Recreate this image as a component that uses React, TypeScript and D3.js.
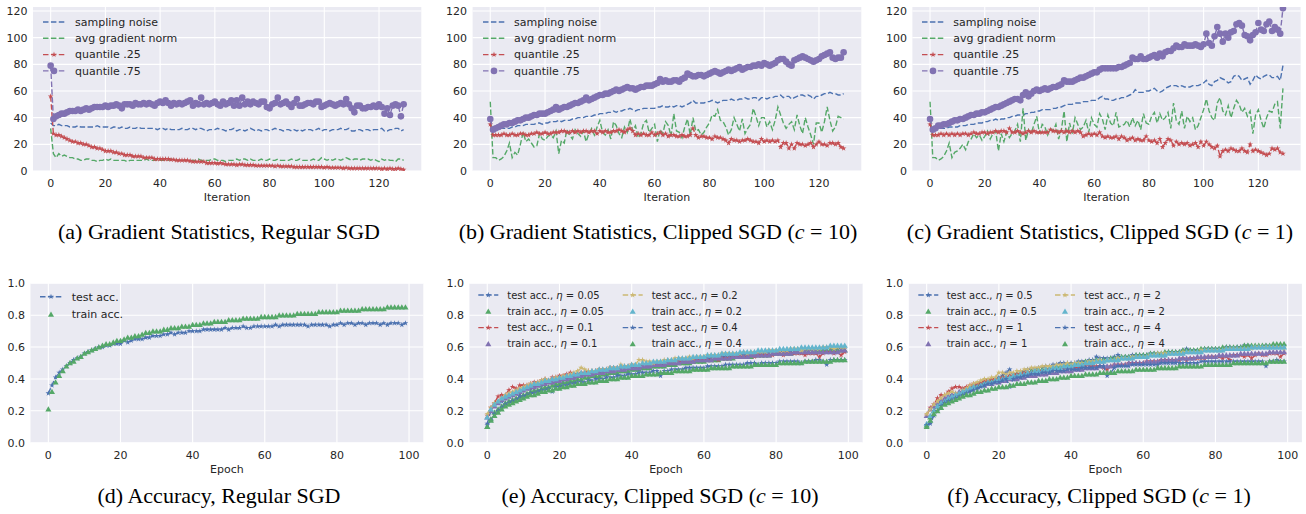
import React, { useEffect, useRef } from "react";
import * as d3 from "d3";

// seaborn "deep" palette
const BLUE = "#4C72B0";
const GREEN = "#55A868";
const RED = "#C44E52";
const PURPLE = "#8172B2";
const YELLOW = "#CCB974";
const CYAN = "#64B5CD";

const iters = d3.range(130);
const epochs = d3.range(100);

const gradTicksX = [0, 20, 40, 60, 80, 100, 120];
const gradTicksY = [0, 20, 40, 60, 80, 100, 120];
const accTicksX = [0, 20, 40, 60, 80, 100];
const accTicksY = [0, 0.2, 0.4, 0.6, 0.8, 1.0];

const gradLabels = ["sampling noise", "avg gradient norm", "quantile .25", "quantile .75"];

// (a) regular SGD
const aNoise = [
  36, 34, 34, 35, 34, 34, 34, 33, 33, 33, 34, 33, 33, 33, 33, 33, 33, 34, 33, 33,
  33, 33, 32, 33, 33, 32, 33, 32, 32, 33, 32, 32, 33, 32, 32, 32, 32, 32, 32, 31,
  32, 32, 31, 32, 31, 31, 31, 31, 32, 31, 31, 32, 32, 31, 32, 32, 31, 30, 31, 31,
  31, 32, 31, 31, 30, 31, 31, 32, 30, 31, 31, 30, 31, 32, 31, 30, 31, 30, 31, 31,
  30, 31, 32, 31, 31, 30, 31, 31, 30, 31, 30, 31, 30, 31, 31, 31, 30, 31, 32, 30,
  31, 31, 30, 31, 31, 31, 32, 31, 31, 32, 30, 30, 31, 31, 30, 31, 31, 30, 31, 31,
  31, 32, 30, 30, 31, 31, 32, 32, 30, 31,
];
const aNorm = [
  32, 13, 10, 13, 11, 12, 11, 10, 10, 9, 9, 8, 8, 9, 9, 8, 8, 7, 8, 8,
  9, 8, 9, 8, 8, 8, 8, 8, 7, 8, 8, 8, 8, 8, 8, 9, 8, 8, 8, 8,
  8, 8, 8, 8, 9, 8, 8, 8, 8, 8, 8, 8, 8, 8, 9, 8, 8, 8, 8, 9,
  9, 8, 8, 8, 7, 8, 8, 8, 9, 8, 9, 9, 8, 9, 8, 8, 8, 9, 8, 8,
  9, 8, 8, 9, 8, 8, 8, 8, 9, 8, 8, 9, 8, 8, 8, 8, 9, 8, 8, 10,
  9, 8, 9, 8, 9, 9, 8, 9, 10, 9, 8, 9, 9, 8, 9, 9, 9, 8, 9, 8,
  7, 9, 8, 9, 8, 8, 7, 9, 9, 8,
];
const aQ25 = [
  56, 28, 27, 27, 26, 25, 24, 23, 22, 22, 21, 21, 20, 20, 19, 18, 18, 17, 17, 16,
  15, 15, 15, 14, 14, 13, 13, 12, 12, 12, 11, 11, 11, 11, 10, 10, 10, 10, 9, 9,
  9, 9, 9, 9, 8.5, 8.5, 8, 8, 8, 8, 8, 7.5, 7, 7, 7, 7, 7, 6, 6, 6,
  6, 5.5, 6, 5.5, 5, 5, 5, 5, 4.5, 5, 5, 4.5, 4.5, 4.5, 4.5, 4, 4, 4, 4, 4,
  4, 4, 3.5, 4, 3.5, 3.5, 3.5, 3.5, 3.5, 3, 3, 3, 3, 3, 3, 3, 3, 3, 3, 3,
  2.5, 3, 2.5, 2.5, 2.5, 2.5, 2.5, 2, 2.5, 2, 2, 2, 2, 2, 2, 2, 2, 2, 2, 2,
  2, 1.5, 2, 1.5, 2, 1.5, 1.5, 2, 1.5, 1,
];
const aQ75 = [
  79, 39, 41, 42, 43, 43, 44, 45, 45, 45, 46, 45, 46, 47, 46, 47, 48, 48, 48, 48,
  49, 48, 49, 49, 50, 49, 47, 50, 50, 50, 49, 51, 50, 50, 51, 50, 51, 50, 49, 51,
  52, 51, 53, 51, 49, 51, 50, 51, 50, 51, 52, 53, 49, 51, 50, 55, 50, 51, 50, 51,
  52, 50, 49, 52, 50, 51, 53, 49, 53, 49, 55, 50, 52, 50, 52, 51, 50, 52, 52, 48,
  47, 50, 51, 55, 50, 51, 52, 50, 48, 51, 54, 49, 49, 50, 51, 51, 50, 52, 52, 48,
  49, 50, 51, 50, 49, 50, 51, 50, 54, 50, 47, 44, 49, 49, 47, 47, 48, 48, 49, 48,
  50, 48, 43, 47, 42, 49, 50, 49, 41, 50,
];

// (b) clipped SGD, c = 10
const bNoise = [
  36, 30, 31, 31, 32, 32, 32, 32, 33, 33, 34, 34, 34, 35, 35, 35, 35, 36, 36, 35,
  36, 36, 37, 37, 37, 38, 37, 38, 38, 38, 39, 39, 40, 40, 40, 41, 41, 41, 42, 42,
  43, 43, 43, 44, 44, 45, 44, 45, 45, 46, 46, 47, 46, 45, 46, 46, 47, 47, 47, 47,
  47, 48, 48, 49, 48, 48, 49, 48, 49, 49, 48, 49, 50, 51, 53, 51, 51, 51, 51, 52,
  52, 53, 52, 51, 52, 53, 53, 53, 54, 53, 53, 54, 54, 55, 54, 54, 55, 55, 53, 55,
  55, 54, 55, 55, 56, 56, 57, 55, 56, 56, 54, 55, 56, 57, 57, 56, 57, 56, 54, 56,
  56, 57, 58, 58, 59, 58, 58, 57, 57, 58,
];
const bNorm = [
  52, 10, 10, 8, 9, 11, 15, 21, 10, 14, 12, 20, 29, 22, 24, 21, 18, 19, 28, 24,
  23, 26, 27, 25, 30, 13, 23, 21, 31, 27, 24, 31, 28, 26, 30, 22, 28, 32, 27, 33,
  38, 29, 27, 31, 24, 37, 34, 28, 25, 33, 29, 39, 30, 34, 25, 28, 36, 38, 29, 32,
  35, 22, 31, 28, 37, 34, 26, 43, 30, 29, 25, 33, 39, 27, 40, 30, 31, 27, 29, 33,
  36, 42, 41, 46, 38, 37, 33, 27, 31, 40, 35, 30, 39, 28, 32, 35, 47, 41, 34, 40,
  40, 33, 37, 31, 38, 48, 42, 36, 32, 35, 37, 31, 42, 34, 28, 40, 33, 27, 20, 36,
  36, 29, 37, 48, 38, 30, 33, 41, 40, 39,
];
const bQ25 = [
  35, 27, 27, 27, 27, 28, 27, 27, 28, 27, 27, 28, 28, 27, 27, 28, 28, 29, 28, 28,
  29, 28, 28, 29, 29, 29, 30, 30, 29, 29, 30, 29, 30, 29, 30, 30, 29, 30, 30, 28,
  30, 29, 30, 29, 29, 30, 30, 31, 30, 29, 31, 32, 30, 27, 28, 27, 28, 27, 27, 29,
  27, 28, 29, 27, 28, 26, 27, 27, 26, 26, 27, 26, 26, 27, 32, 27, 25, 26, 26, 25,
  25, 24, 26, 25, 25, 24, 23, 21, 24, 23, 23, 22, 23, 23, 24, 23, 22, 22, 21, 24,
  22, 23, 22, 23, 22, 23, 18, 21, 21, 17, 20, 17, 21, 20, 20, 19, 20, 21, 18, 20,
  22, 20, 20, 19, 21, 21, 20, 21, 18, 17,
];
const bQ75 = [
  39, 31, 32, 33, 34, 35, 35, 36, 36, 37, 38, 38, 39, 40, 40, 41, 42, 42, 43, 43,
  43, 44, 45, 46, 48, 46, 47, 48, 48, 49, 50, 51, 51, 52, 53, 55, 53, 54, 55, 56,
  57, 57, 58, 58, 59, 60, 61, 60, 61, 62, 63, 62, 62, 61, 62, 63, 63, 64, 64, 64,
  65, 66, 69, 67, 68, 67, 67, 68, 68, 67, 69, 70, 73, 72, 71, 71, 72, 72, 71, 72,
  73, 74, 75, 74, 73, 74, 75, 76, 75, 76, 77, 78, 76, 77, 78, 78, 79, 79, 80, 79,
  81, 80, 79, 80, 81, 83, 84, 84, 82, 80, 79, 83, 84, 85, 86, 85, 84, 83, 82, 83,
  84, 86, 87, 88, 89, 85, 84, 85, 85, 89,
];

// (c) clipped SGD, c = 1
const cNoise = [
  36, 30, 31, 32, 32, 32, 32, 33, 33, 33, 33, 34, 34, 34, 35, 35, 35, 36, 36, 36,
  37, 37, 38, 38, 39, 38, 39, 39, 40, 40, 41, 41, 42, 42, 42, 43, 43, 44, 44, 45,
  45, 46, 46, 46, 46, 47, 47, 48, 48, 49, 50, 50, 50, 51, 51, 51, 52, 52, 52, 53,
  53, 53, 55, 56, 54, 54, 53, 53, 54, 54, 55, 55, 56, 57, 58, 61, 59, 59, 59, 60,
  60, 61, 62, 60, 59, 60, 62, 63, 64, 64, 64, 63, 64, 63, 63, 63, 64, 64, 64, 65,
  66, 68, 65, 64, 67, 68, 70, 69, 68, 66, 67, 71, 72, 71, 68, 69, 70, 65, 68, 72,
  70, 69, 71, 72, 72, 70, 70, 71, 68, 79,
];
const cNorm = [
  52, 10, 10, 8, 9, 11, 15, 21, 10, 14, 15, 17, 20, 16, 22, 24, 28, 25, 27, 23,
  26, 30, 24, 28, 30, 15, 28, 22, 29, 25, 28, 30, 35, 22, 47, 23, 31, 28, 35, 41,
  28, 35, 33, 27, 32, 30, 35, 24, 31, 45, 22, 36, 28, 40, 35, 31, 33, 38, 29, 40,
  35, 33, 43, 39, 31, 42, 36, 34, 44, 33, 34, 35, 38, 33, 40, 34, 38, 31, 43, 36,
  35, 41, 44, 36, 43, 38, 40, 44, 32, 51, 38, 35, 45, 32, 41, 37, 40, 31, 34, 40,
  46, 54, 45, 40, 38, 51, 55, 45, 42, 49, 40, 47, 53, 50, 44, 47, 41, 45, 28, 42,
  46, 38, 32, 40, 45, 44, 50, 52, 32, 62,
];
const cQ25 = [
  35, 27, 27, 27, 28, 27, 28, 27, 28, 27, 28, 27, 28, 28, 27, 28, 29, 28, 28, 29,
  29, 28, 29, 29, 30, 29, 30, 30, 29, 32, 29, 29, 30, 29, 28, 29, 30, 29, 30, 29,
  29, 29, 29, 29, 31, 30, 30, 29, 30, 29, 30, 29, 30, 29, 30, 29, 26, 27, 28, 27,
  28, 27, 29, 26, 25, 26, 25, 25, 26, 24, 26, 25, 23, 24, 25, 23, 24, 23, 23, 26,
  23, 22, 23, 21, 24, 18, 21, 24, 23, 19, 22, 20, 21, 20, 21, 19, 20, 21, 18, 22,
  19, 22, 20, 18, 17, 19, 11, 15, 16, 15, 17, 16, 15, 15, 17, 15, 14, 20, 15, 16,
  15, 14, 13, 12, 13, 17, 16, 17, 14, 13,
];
const cQ75 = [
  39, 31, 32, 34, 34, 35, 35, 36, 37, 38, 38, 39, 39, 40, 41, 42, 42, 43, 43, 44,
  44, 45, 46, 47, 48, 48, 49, 50, 51, 52, 53, 54, 54, 53, 57, 59, 56, 58, 60, 61,
  60, 61, 62, 61, 62, 63, 63, 64, 65, 68, 67, 67, 67, 68, 69, 70, 70, 71, 72, 73,
  74, 74, 76, 77, 77, 77, 77, 77, 77, 78, 78, 79, 80, 81, 85, 84, 84, 86, 84, 84,
  85, 86, 87, 85, 88, 86, 89, 90, 90, 92, 94, 93, 93, 95, 94, 94, 94, 95, 94, 93,
  95, 103, 96, 94, 101, 108, 103, 97, 103, 100, 104, 105, 110, 111, 109, 102, 101, 98, 102, 104,
  111, 106, 105, 110, 112, 105, 108, 106, 103, 122,
];

// (d) accuracy, regular SGD
const dTest = [
  .31, .36, .41, .44, .46, .48, .50, .52, .53, .54, .56, .57, .58, .59, .60, .60, .61, .61, .62, .62,
  .62, .64, .63, .64, .65, .65, .65, .66, .66, .67, .67, .67, .68, .68, .69, .68, .69, .69, .69, .70,
  .70, .70, .70, .71, .71, .71, .71, .71, .71, .72, .71, .72, .72, .72, .73, .72, .72, .73, .73, .73,
  .73, .73, .73, .74, .73, .74, .74, .74, .74, .74, .74, .74, .73, .74, .74, .74, .74, .74, .73, .74,
  .74, .75, .74, .75, .75, .74, .75, .75, .74, .75, .75, .75, .74, .75, .74, .75, .75, .75, .74, .75,
];
const dTrain = [
  .21, .32, .38, .42, .45, .48, .50, .51, .53, .54, .56, .57, .58, .59, .60, .61, .62, .62, .63, .64,
  .64, .65, .66, .66, .67, .67, .68, .69, .69, .70, .70, .70, .71, .71, .72, .72, .72, .73, .73, .73,
  .74, .74, .74, .75, .75, .75, .76, .76, .76, .76, .77, .77, .77, .77, .78, .78, .78, .78, .78, .79,
  .79, .79, .79, .79, .80, .80, .80, .80, .80, .81, .81, .81, .81, .81, .81, .82, .82, .82, .82, .82,
  .82, .83, .83, .83, .83, .83, .83, .84, .84, .84, .84, .84, .84, .84, .85, .85, .85, .85, .85, .85,
];

// (e) accuracy, clipped SGD c = 10
const etaE = ["0.05", "0.1", "0.2", "0.4"];
const eTest05 = [
  .12, .20, .24, .25, .26, .28, .29, .30, .31, .31, .33, .34, .34, .35, .36, .36, .37, .38, .37, .38,
  .39, .40, .40, .41, .41, .42, .42, .42, .43, .43, .44, .44, .45, .45, .45, .46, .46, .46, .47, .47,
  .47, .48, .48, .48, .49, .48, .49, .49, .48, .50, .50, .50, .51, .51, .51, .52, .51, .52, .52, .52,
  .53, .53, .53, .53, .54, .54, .54, .54, .55, .55, .55, .55, .55, .56, .56, .56, .56, .56, .57, .57,
  .57, .57, .57, .57, .58, .58, .58, .58, .58, .58, .58, .58, .59, .59, .59, .59, .58, .59, .59, .59,
];
const eTrain05 = [
  .10, .15, .19, .21, .23, .25, .26, .27, .28, .29, .30, .31, .32, .33, .33, .34, .35, .35, .36, .37,
  .37, .38, .38, .39, .39, .40, .40, .41, .41, .42, .42, .42, .43, .43, .44, .44, .44, .45, .45, .45,
  .46, .46, .46, .47, .47, .47, .48, .48, .48, .48, .49, .49, .49, .50, .50, .50, .50, .51, .51, .51,
  .51, .52, .52, .52, .52, .53, .53, .53, .53, .54, .54, .54, .54, .54, .55, .55, .55, .55, .55, .56,
  .56, .56, .56, .56, .56, .57, .57, .57, .57, .57, .57, .57, .58, .58, .58, .58, .58, .58, .58, .58,
];
const eTest1 = [
  .17, .22, .25, .29, .30, .30, .33, .35, .34, .36, .36, .36, .37, .38, .38, .39, .40, .39, .41, .41,
  .42, .42, .43, .44, .43, .43, .44, .44, .45, .45, .45, .46, .46, .46, .47, .47, .47, .47, .48, .48,
  .49, .48, .48, .49, .49, .49, .49, .50, .50, .50, .50, .50, .51, .51, .51, .51, .52, .51, .52, .52,
  .52, .52, .52, .53, .52, .53, .53, .53, .54, .54, .54, .54, .54, .55, .54, .55, .55, .55, .55, .55,
  .56, .56, .55, .56, .56, .56, .56, .56, .55, .56, .56, .56, .54, .56, .57, .57, .56, .57, .55, .57,
];
const eTrain1 = [
  .16, .20, .23, .25, .27, .28, .29, .30, .31, .32, .33, .34, .35, .35, .36, .37, .37, .38, .38, .39,
  .39, .40, .40, .41, .41, .42, .42, .43, .43, .43, .44, .44, .44, .45, .45, .45, .46, .46, .46, .47,
  .47, .47, .47, .48, .48, .48, .49, .49, .49, .49, .50, .50, .50, .50, .51, .51, .51, .51, .52, .52,
  .52, .52, .52, .53, .53, .53, .53, .53, .54, .54, .54, .54, .54, .55, .55, .55, .55, .55, .55, .56,
  .56, .56, .56, .56, .56, .57, .57, .57, .57, .57, .57, .57, .57, .57, .57, .57, .57, .57, .58, .58,
];
const eTest2 = [
  .18, .22, .25, .26, .28, .30, .31, .32, .33, .34, .35, .36, .37, .37, .38, .39, .40, .39, .40, .41,
  .41, .42, .42, .43, .44, .45, .47, .46, .45, .45, .45, .46, .46, .46, .47, .47, .47, .49, .48, .48,
  .49, .49, .52, .52, .51, .51, .50, .51, .51, .52, .52, .52, .53, .53, .53, .53, .54, .53, .54, .54,
  .54, .55, .55, .55, .55, .56, .56, .56, .56, .56, .56, .57, .56, .57, .57, .57, .57, .57, .58, .58,
  .58, .58, .58, .58, .59, .59, .59, .58, .59, .59, .59, .59, .59, .60, .60, .60, .59, .60, .60, .60,
];
const eTrain2 = [
  .16, .21, .24, .26, .28, .29, .30, .31, .32, .33, .34, .35, .36, .37, .37, .38, .39, .39, .40, .40,
  .41, .41, .42, .42, .43, .43, .44, .44, .44, .45, .45, .46, .46, .46, .47, .47, .47, .48, .48, .48,
  .49, .49, .49, .50, .50, .50, .51, .51, .51, .51, .52, .52, .52, .53, .53, .53, .53, .54, .54, .54,
  .54, .55, .55, .55, .55, .56, .56, .56, .56, .56, .57, .57, .57, .57, .57, .58, .58, .58, .58, .58,
  .58, .59, .59, .59, .59, .59, .59, .60, .60, .60, .60, .60, .60, .60, .60, .61, .61, .61, .61, .61,
];
const eTest4 = [
  .11, .14, .18, .20, .22, .24, .25, .26, .27, .29, .29, .30, .31, .31, .32, .33, .33, .34, .32, .35,
  .35, .36, .36, .37, .37, .38, .38, .38, .39, .39, .40, .40, .40, .41, .41, .41, .42, .42, .42, .43,
  .43, .43, .44, .44, .44, .44, .45, .45, .42, .45, .45, .46, .46, .46, .46, .47, .47, .47, .47, .47,
  .47, .48, .48, .48, .48, .48, .49, .49, .49, .49, .49, .49, .50, .50, .50, .49, .50, .50, .50, .50,
  .50, .51, .51, .51, .51, .51, .51, .50, .51, .51, .51, .52, .52, .51, .49, .52, .52, .52, .52, .52,
];
const eTrain4 = [
  .10, .14, .17, .19, .21, .23, .24, .25, .26, .27, .28, .29, .30, .30, .31, .32, .32, .33, .33, .34,
  .34, .35, .35, .36, .36, .37, .37, .37, .38, .38, .38, .39, .39, .39, .40, .40, .40, .41, .41, .41,
  .42, .42, .42, .42, .43, .43, .43, .43, .44, .44, .44, .44, .45, .45, .45, .45, .45, .46, .46, .46,
  .46, .46, .47, .47, .47, .47, .47, .47, .48, .48, .48, .48, .48, .48, .49, .49, .49, .49, .49, .49,
  .49, .50, .50, .50, .50, .50, .50, .50, .51, .51, .51, .51, .51, .51, .51, .51, .52, .52, .52, .52,
];

// (f) accuracy, clipped SGD c = 1
const etaF = ["0.5", "1", "2", "4"];
const fTest05 = [
  .11, .13, .20, .24, .26, .27, .29, .30, .30, .31, .33, .34, .35, .36, .36, .37, .38, .39, .39, .40,
  .41, .42, .44, .46, .43, .43, .44, .45, .46, .46, .46, .47, .47, .48, .48, .49, .49, .50, .50, .50,
  .50, .50, .51, .51, .51, .52, .52, .54, .53, .53, .53, .53, .54, .55, .53, .54, .54, .55, .55, .55,
  .55, .55, .56, .56, .56, .56, .56, .57, .57, .57, .57, .58, .59, .58, .58, .58, .58, .59, .59, .59,
  .59, .59, .59, .60, .60, .59, .60, .60, .61, .61, .60, .60, .60, .60, .61, .60, .60, .61, .61, .61,
];
const fTrain05 = [
  .11, .16, .20, .23, .25, .27, .28, .29, .30, .31, .32, .33, .34, .35, .36, .37, .37, .38, .39, .39,
  .40, .41, .41, .42, .42, .43, .43, .44, .44, .45, .45, .46, .46, .46, .47, .47, .48, .48, .48, .49,
  .49, .49, .50, .50, .51, .51, .51, .52, .52, .52, .52, .53, .53, .53, .54, .54, .54, .54, .55, .55,
  .55, .55, .56, .56, .56, .56, .57, .57, .57, .57, .57, .58, .58, .58, .58, .58, .59, .59, .59, .59,
  .59, .59, .60, .60, .60, .60, .60, .60, .61, .61, .61, .61, .61, .61, .61, .61, .62, .62, .62, .62,
];
const fTest1 = [
  .17, .22, .24, .28, .30, .30, .32, .34, .35, .35, .34, .35, .36, .37, .37, .38, .39, .39, .40, .40,
  .40, .41, .41, .42, .42, .43, .43, .44, .44, .44, .44, .45, .45, .45, .46, .46, .46, .46, .47, .47,
  .47, .47, .47, .47, .48, .48, .48, .48, .48, .47, .46, .48, .49, .49, .49, .49, .50, .50, .50, .50,
  .50, .51, .51, .51, .51, .52, .52, .52, .52, .52, .52, .53, .52, .53, .53, .53, .53, .53, .54, .54,
  .54, .54, .53, .54, .52, .55, .55, .55, .54, .55, .53, .55, .56, .55, .55, .56, .56, .56, .54, .56,
];
const fTrain1 = [
  .17, .21, .23, .25, .27, .28, .29, .30, .31, .32, .33, .33, .34, .35, .35, .36, .36, .37, .37, .38,
  .38, .39, .39, .40, .40, .40, .41, .41, .42, .42, .42, .43, .43, .43, .44, .44, .44, .45, .45, .45,
  .45, .46, .46, .46, .47, .47, .47, .47, .48, .48, .48, .48, .49, .49, .49, .49, .50, .50, .50, .50,
  .50, .51, .51, .51, .51, .52, .52, .52, .52, .52, .53, .53, .53, .53, .53, .54, .54, .54, .54, .54,
  .54, .55, .55, .55, .55, .55, .55, .56, .56, .56, .56, .56, .56, .56, .56, .57, .57, .57, .57, .57,
];
const fTest2 = [
  .18, .21, .24, .26, .28, .30, .31, .32, .31, .29, .33, .34, .36, .37, .38, .39, .40, .40, .41, .41,
  .44, .44, .43, .44, .44, .45, .45, .46, .46, .47, .47, .47, .48, .48, .48, .48, .49, .49, .49, .50,
  .49, .50, .50, .50, .50, .51, .51, .51, .52, .51, .52, .52, .52, .53, .53, .53, .53, .54, .54, .54,
  .54, .54, .55, .55, .56, .56, .56, .56, .56, .56, .56, .57, .57, .57, .57, .57, .58, .58, .58, .58,
  .58, .58, .58, .59, .59, .59, .59, .59, .59, .59, .59, .60, .60, .60, .60, .60, .60, .60, .60, .59,
];
const fTrain2 = [
  .12, .17, .20, .23, .25, .26, .28, .29, .30, .31, .32, .33, .34, .35, .35, .36, .37, .38, .38, .39,
  .40, .40, .41, .41, .42, .42, .43, .43, .44, .44, .45, .45, .45, .46, .46, .47, .47, .47, .48, .48,
  .48, .49, .49, .49, .50, .50, .50, .51, .51, .51, .52, .52, .52, .52, .53, .53, .53, .53, .54, .54,
  .54, .54, .55, .55, .55, .55, .55, .56, .56, .56, .56, .56, .57, .57, .57, .57, .57, .58, .58, .58,
  .58, .58, .58, .59, .59, .59, .59, .59, .59, .59, .60, .60, .60, .60, .60, .60, .60, .60, .60, .60,
];
const fTest4 = [
  .11, .12, .17, .20, .23, .25, .26, .27, .28, .29, .30, .31, .32, .33, .34, .35, .36, .37, .37, .38,
  .38, .39, .40, .35, .40, .41, .41, .42, .42, .43, .43, .43, .44, .44, .44, .45, .45, .45, .45, .46,
  .46, .46, .46, .47, .47, .47, .47, .47, .48, .48, .42, .44, .47, .48, .48, .48, .48, .49, .49, .49,
  .49, .49, .49, .49, .49, .50, .50, .50, .50, .50, .50, .50, .50, .50, .50, .50, .51, .51, .51, .51,
  .51, .51, .51, .51, .51, .51, .51, .51, .51, .51, .51, .51, .51, .51, .48, .51, .51, .52, .51, .51,
];
const fTrain4 = [
  .10, .14, .18, .20, .22, .24, .25, .26, .27, .28, .29, .30, .30, .31, .32, .32, .33, .33, .34, .34,
  .35, .35, .35, .36, .36, .37, .37, .37, .38, .38, .38, .39, .39, .39, .40, .40, .40, .41, .41, .41,
  .42, .42, .42, .42, .43, .43, .43, .43, .44, .44, .44, .44, .44, .45, .45, .45, .45, .45, .46, .46,
  .46, .46, .46, .46, .47, .47, .47, .47, .47, .47, .48, .48, .48, .48, .48, .48, .48, .49, .49, .49,
  .49, .49, .49, .49, .49, .50, .50, .50, .50, .50, .50, .50, .50, .50, .50, .51, .51, .51, .51, .51,
];

type Marker = "star" | "circle" | "triangle" | null;
type Series = { label: string; values: number[]; color: string; line: boolean; marker: Marker };

const gradSeries = (noise: number[], norm: number[], q25: number[], q75: number[]): Series[] => [
  { label: gradLabels[0], values: noise, color: BLUE, line: true, marker: null },
  { label: gradLabels[1], values: norm, color: GREEN, line: true, marker: null },
  { label: gradLabels[2], values: q25, color: RED, line: true, marker: "star" },
  { label: gradLabels[3], values: q75, color: PURPLE, line: true, marker: "circle" },
];

const testS = (label: string, values: number[], color: string): Series => ({ label, values, color, line: true, marker: "star" });
const trainS = (label: string, values: number[], color: string): Series => ({ label, values, color, line: false, marker: "triangle" });

const accSeries = (eta: string[], data: number[][]): Series[] => {
  const testColors = [BLUE, RED, YELLOW, BLUE];
  const trainColors = [GREEN, PURPLE, CYAN, GREEN];
  const out: Series[] = [];
  eta.forEach((e, i) => {
    out.push(testS(`test acc., η = ${e}`, data[2 * i], testColors[i]));
    out.push(trainS(`train acc., η = ${e}`, data[2 * i + 1], trainColors[i]));
  });
  return out;
};

type Panel = {
  left: number; right: number; top: number; bottom: number;
  grad: boolean; series: Series[];
  legend: { hx: number; tx: number; y0: number; dy: number; font: number; hl: number; col2?: { hx: number; tx: number } };
  caption: { x: number; y: number; pre: string; it?: string; post?: string };
};

const panels: Panel[] = [
  {
    left: 33, right: 421.3, top: 7, bottom: 171, grad: true,
    series: gradSeries(aNoise, aNorm, aQ25, aQ75),
    legend: { hx: 43, tx: 75, y0: 22, dy: 16.3, font: 11, hl: 22 },
    caption: { x: 219, y: 231, pre: "(a) Gradient Statistics, Regular SGD" },
  },
  {
    left: 472.6, right: 861.3, top: 7, bottom: 171, grad: true,
    series: gradSeries(bNoise, bNorm, bQ25, bQ75),
    legend: { hx: 483, tx: 514, y0: 22, dy: 16.3, font: 11, hl: 22 },
    caption: { x: 658, y: 231, pre: "(b) Gradient Statistics, Clipped SGD (", it: "c", post: " = 10)" },
  },
  {
    left: 912.4, right: 1300.6, top: 7, bottom: 171, grad: true,
    series: gradSeries(cNoise, cNorm, cQ25, cQ75),
    legend: { hx: 922, tx: 953.3, y0: 22, dy: 16.3, font: 11, hl: 22 },
    caption: { x: 1100, y: 231, pre: "(c) Gradient Statistics, Clipped SGD (", it: "c", post: " = 1)" },
  },
  {
    left: 30.5, right: 423.3, top: 283.3, bottom: 442.7, grad: false,
    series: [testS("test acc.", dTest, BLUE), trainS("train acc.", dTrain, GREEN)],
    legend: { hx: 40, tx: 71.7, y0: 296.7, dy: 17.6, font: 11, hl: 22 },
    caption: { x: 219, y: 495, pre: "(d) Accuracy, Regular SGD" },
  },
  {
    left: 469.4, right: 862.6, top: 283.3, bottom: 442.7, grad: false,
    series: accSeries(etaE, [eTest05, eTrain05, eTest1, eTrain1, eTest2, eTrain2, eTest4, eTrain4]),
    legend: { hx: 478.3, tx: 507.3, y0: 295, dy: 16.3, font: 10, hl: 20, col2: { hx: 622.7, tx: 651.7 } },
    caption: { x: 660, y: 495, pre: "(e) Accuracy, Clipped SGD (", it: "c", post: " = 10)" },
  },
  {
    left: 908.8, right: 1301.9, top: 283.3, bottom: 442.7, grad: false,
    series: accSeries(etaF, [fTest05, fTrain05, fTest1, fTrain1, fTest2, fTrain2, fTest4, fTrain4]),
    legend: { hx: 918.3, tx: 946.7, y0: 295, dy: 16.3, font: 10, hl: 20, col2: { hx: 1055, tx: 1084.3 } },
    caption: { x: 1099, y: 495, pre: "(f) Accuracy, Clipped SGD (", it: "c", post: " = 1)" },
  },
];

const TEXT = "#262626";
const SANS = "'DejaVu Sans', sans-serif";

const drawMarker = (g: any, kind: Marker, color: string, x: number, y: number) => {
  if (kind === "circle") {
    g.append("circle").attr("cx", x).attr("cy", y).attr("r", 3.3).attr("fill", color);
  } else if (kind === "star") {
    g.append("path").attr("d", d3.symbol(d3.symbolStar, 10)()).attr("transform", `translate(${x},${y})`).attr("fill", color);
  } else if (kind === "triangle") {
    g.append("path").attr("d", d3.symbol(d3.symbolTriangle, 16)()).attr("transform", `translate(${x},${y + 0.6})`).attr("fill", color);
  }
};

const Chart = () => {
  const svgRef = useRef<SVGSVGElement>(null);

  useEffect(() => {
    const svg = d3.select(svgRef.current);
    svg.selectAll("*").remove();

    panels.forEach((p, pi) => {
      const xs = p.grad ? iters : epochs;
      const n = xs.length - 1;
      const x = d3.scaleLinear().domain([-0.05 * n, n * 1.05]).range([p.left, p.right]);
      const y = d3.scaleLinear().domain(p.grad ? [0, 123] : [0, 1]).range([p.bottom, p.top]);
      const xTicks = p.grad ? gradTicksX : accTicksX;
      const yTicks = p.grad ? gradTicksY : accTicksY;
      const yFmt = p.grad ? d3.format("d") : d3.format(".1f");

      const g = svg.append("g");
      g.append("rect")
        .attr("x", p.left).attr("y", p.top)
        .attr("width", p.right - p.left).attr("height", p.bottom - p.top)
        .attr("fill", "#EAEAF2");

      g.selectAll(".gx").data(xTicks).enter().append("line")
        .attr("x1", (d) => x(d)).attr("x2", (d) => x(d))
        .attr("y1", p.top).attr("y2", p.bottom)
        .attr("stroke", "#fff").attr("stroke-width", 1.1);
      g.selectAll(".gy").data(yTicks).enter().append("line")
        .attr("x1", p.left).attr("x2", p.right)
        .attr("y1", (d) => y(d)).attr("y2", (d) => y(d))
        .attr("stroke", "#fff").attr("stroke-width", 1.1);

      g.selectAll(".tx").data(xTicks).enter().append("text")
        .attr("x", (d) => x(d)).attr("y", p.bottom + 16)
        .attr("text-anchor", "middle").attr("font-family", SANS).attr("font-size", 11).attr("fill", TEXT)
        .text((d) => String(d));
      g.selectAll(".ty").data(yTicks).enter().append("text")
        .attr("x", p.left - 5.5).attr("y", (d) => y(d)).attr("dy", "0.35em")
        .attr("text-anchor", "end").attr("font-family", SANS).attr("font-size", 11).attr("fill", TEXT)
        .text((d) => yFmt(d));
      g.append("text")
        .attr("x", (p.left + p.right) / 2).attr("y", p.bottom + 30)
        .attr("text-anchor", "middle").attr("font-family", SANS).attr("font-size", 11).attr("fill", TEXT)
        .text(p.grad ? "Iteration" : "Epoch");

      const clipId = `clip-${pi}`;
      svg.append("clipPath").attr("id", clipId).append("rect")
        .attr("x", p.left).attr("y", p.top).attr("width", p.right - p.left).attr("height", p.bottom - p.top);
      const plot = g.append("g").attr("clip-path", `url(#${clipId})`);

      const line = d3.line<number>().x((_, i) => x(xs[i])).y((d) => y(d));
      p.series.forEach((s) => {
        if (s.line) {
          plot.append("path").attr("d", line(s.values))
            .attr("fill", "none").attr("stroke", s.color).attr("stroke-width", 1.4)
            .attr("stroke-dasharray", "5.5,2.4");
        }
        if (s.marker) {
          const mg = plot.append("g");
          s.values.forEach((v, i) => drawMarker(mg, s.marker, s.color, x(xs[i]), y(v)));
        }
      });

      // legend
      const L = p.legend;
      p.series.forEach((s, i) => {
        const col = L.col2 && i >= 4 ? L.col2 : { hx: L.hx, tx: L.tx };
        const ry = L.y0 + (i % 4) * L.dy;
        if (s.line) {
          g.append("line").attr("x1", col.hx).attr("x2", col.hx + L.hl).attr("y1", ry).attr("y2", ry)
            .attr("stroke", s.color).attr("stroke-width", 1.4).attr("stroke-dasharray", "5.5,2.4");
        }
        drawMarker(g, s.marker, s.color, col.hx + L.hl / 2, ry);
        const t = g.append("text").attr("x", col.tx).attr("y", ry).attr("dy", "0.35em")
          .attr("font-family", SANS).attr("font-size", L.font).attr("fill", TEXT);
        const parts = s.label.split("η");
        t.append("tspan").text(parts[0]);
        if (parts.length > 1) {
          t.append("tspan").attr("font-style", "italic").text("η");
          t.append("tspan").text(parts[1]);
        }
      });

      // caption
      const c = p.caption;
      const ct = svg.append("text").attr("x", c.x).attr("y", c.y).attr("dy", "0.35em")
        .attr("text-anchor", "middle").attr("font-family", "'Liberation Serif', 'Times New Roman', serif")
        .attr("font-size", 22).attr("fill", "#000");
      ct.append("tspan").text(c.pre);
      if (c.it) {
        ct.append("tspan").attr("font-style", "italic").text(c.it);
        ct.append("tspan").text(c.post || "");
      }
    });
  }, []);

  return <svg ref={svgRef} width={1306} height={514} style={{ display: "block", background: "#fff" }} />;
};

export default function App() {
  return (
    <div style={{ position: "absolute", left: 0, top: 0 }}>
      <Chart />
    </div>
  );
}
